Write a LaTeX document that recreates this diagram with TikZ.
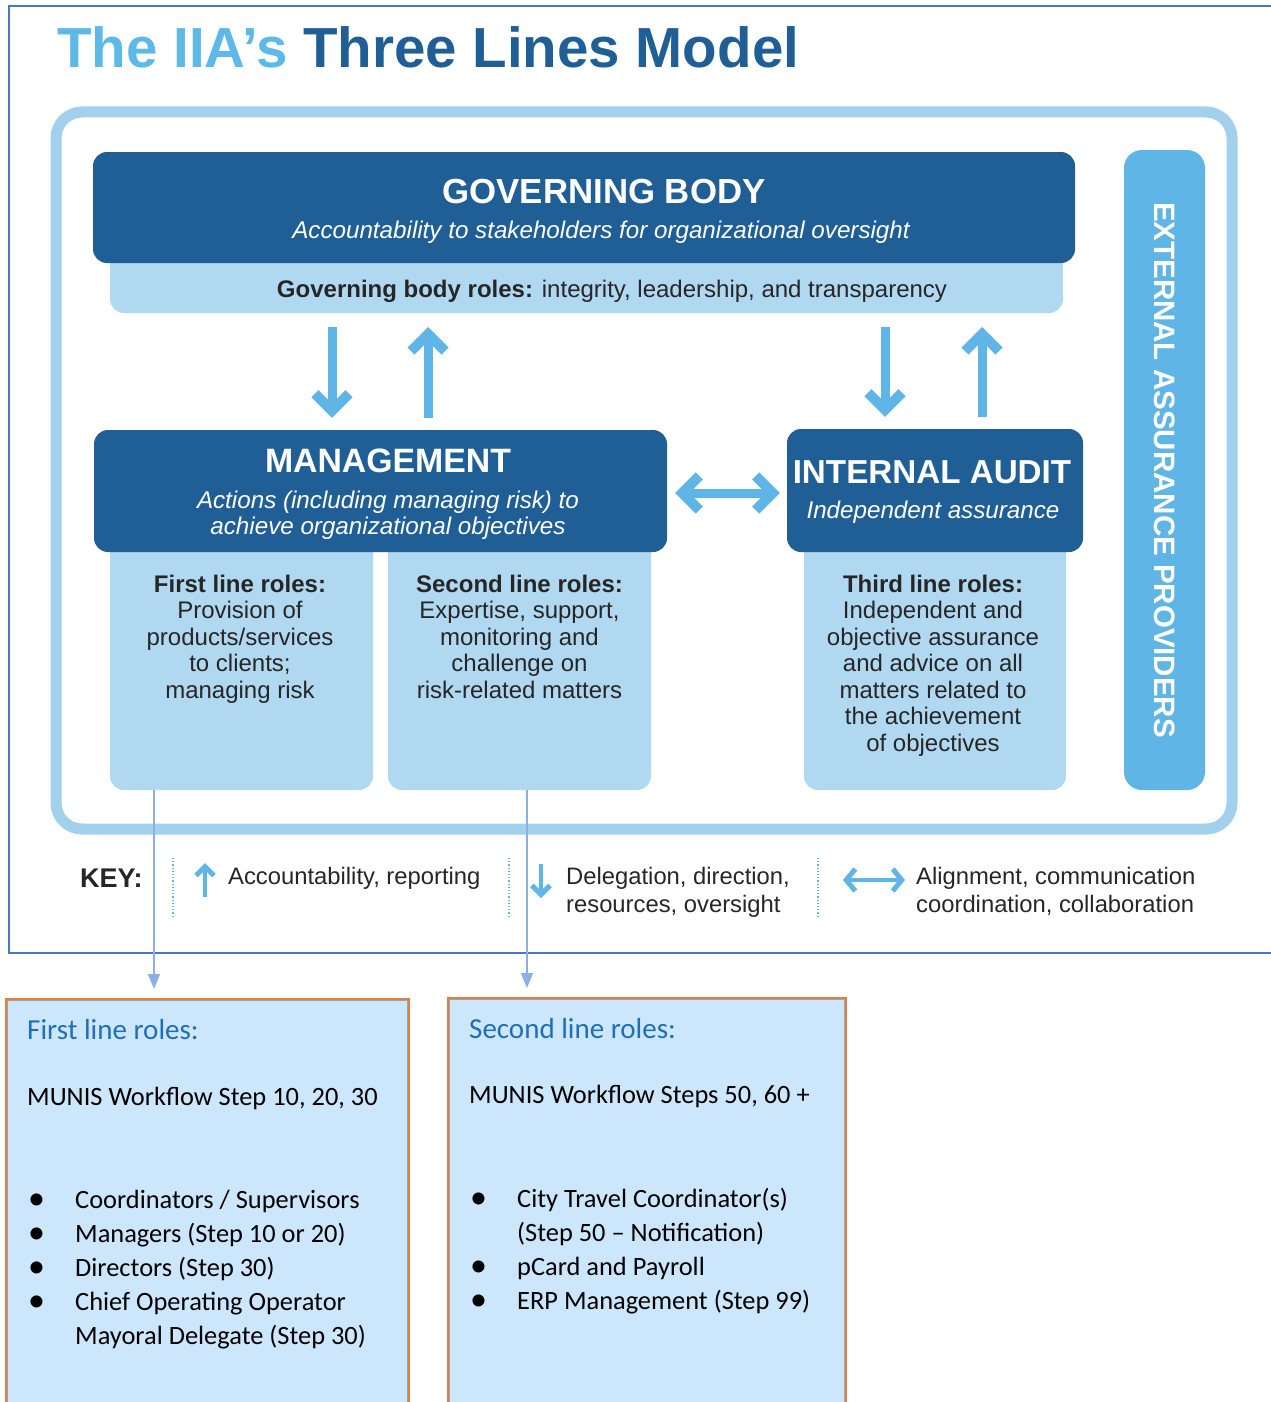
\documentclass[tikz,border=0pt]{standalone}
\usepackage{fontspec}
\setmainfont{Liberation Sans}
\newfontfamily\notefont{Carlito}
\usetikzlibrary{positioning,arrows.meta,calc}

\definecolor{iiadark}{HTML}{1F5F96}
\definecolor{iiasky}{HTML}{5CB9E8}
\definecolor{iiapale}{HTML}{B0D8F1}
\definecolor{iiaframe}{HTML}{A3D0EC}
\definecolor{iiamid}{HTML}{5FB5E5}
\definecolor{pageblue}{HTML}{4A78C6}
\definecolor{linkblue}{HTML}{8DB0E3}
\definecolor{noteorange}{HTML}{ED7D31}
\definecolor{noteedge}{HTML}{8FA7C6}
\definecolor{notefill}{HTML}{CCE6FC}
\definecolor{noteblue}{HTML}{1F6FB6}

\begin{document}
\begin{tikzpicture}[x=1pt,y=-1pt]
	\tikzset{
		darkbox/.style={fill=iiadark,rounded corners=14pt,inner sep=0pt},
		palebox/.style={fill=iiapale,rounded corners=14pt,inner sep=0pt},
		extbox/.style={fill=iiamid,rounded corners=18pt,inner sep=0pt,text=white,
			font=\fontsize{29.5}{32}\selectfont\bfseries},
		notebox/.style={draw=noteorange,line width=3pt,fill=notefill,inner sep=0pt},
		headtext/.style={text=white,inner sep=0pt,font=\fontsize{34.8}{36}\selectfont\bfseries},
		subtext/.style={text=white,inner sep=0pt,align=center,
			font=\fontsize{24.2}{26}\selectfont\itshape},
		roletext/.style={text=black!85,inner sep=0pt,align=center,
			font=\fontsize{24}{26.5}\selectfont},
		keytext/.style={text=black!85,inner sep=0pt,align=left,
			font=\fontsize{23.8}{28}\selectfont},
		notehead/.style={text=noteblue,inner sep=0pt,font=\notefont\fontsize{29}{34}\selectfont},
		notetext/.style={text=black,inner sep=0pt,font=\notefont\fontsize{26.4}{34}\selectfont},
		bigarrow/.style={draw=iiamid,line width=9pt,
			-{Straight Barb[length=17pt,width=34pt,line width=10pt]}},
		bothways/.style={draw=iiamid,line width=9pt,
			{Straight Barb[length=17pt,width=34pt,line width=10pt]}-{Straight Barb[length=17pt,width=34pt,line width=10pt]}},
		keyarrow/.style={draw=iiamid,line width=4.5pt,
			-{Straight Barb[length=9pt,width=18pt,line width=5pt]}},
		keyboth/.style={draw=iiamid,line width=4.5pt,
			{Straight Barb[length=9pt,width=22pt,line width=5pt]}-{Straight Barb[length=9pt,width=22pt,line width=5pt]}},
		keysep/.style={draw=iiamid,line width=1.2pt,dotted},
		link/.style={draw=linkblue,line width=1.5pt,-{Triangle[length=15pt,width=12pt]}}
	}
	\def\bigdot{{\fontsize{34}{34}\selectfont\raisebox{-1pt}{\textbullet}}}
	\useasboundingbox (0,0) rectangle (1270,1402);
	% page frame and the big rounded frame
	\draw[pageblue,line width=2pt] (9,6) rectangle (1290,953);
	\draw[iiaframe,line width=11pt,rounded corners=26pt] (56,112) rectangle (1232,829);
	\node[anchor=base west,inner sep=0pt,font=\fontsize{56.5}{60}\selectfont\bfseries] (title)
		at (57,68) {\textcolor{iiasky}{The IIA’s} \textcolor{iiadark}{Three Lines Model}};

	% governing body
	\node[palebox,minimum width=953pt,minimum height=90pt] (gbroles) at (586.5,268) {};
	\node[darkbox,minimum width=982pt,minimum height=111pt] (gov) at (584,207.5) {};
	\node[headtext,anchor=base] (govname) at (604,203) {GOVERNING BODY};
	\node[subtext,anchor=base] (govsub) at (601,238)
		{Accountability to stakeholders for organizational oversight};
	\node[roletext,anchor=base] (govroles) at (612,297)
		{\textbf{Governing body roles:} integrity, leadership, and transparency};

	% management with first and second line
	\node[palebox,minimum width=263pt,minimum height=280pt] (first) at (241.5,650) {};
	\node[palebox,minimum width=263pt,minimum height=280pt] (second) at (519.5,650) {};
	\node[darkbox,minimum width=573pt,minimum height=122pt] (mgmt) at (380.5,491) {};
	\node[headtext,anchor=base,font=\fontsize{33.8}{36}\selectfont\bfseries] (mgmtname) at (388,472) {MANAGEMENT};
	\node[subtext,anchor=north] (mgmtsub) at (388,491)
		{Actions (including managing risk) to\\achieve organizational objectives};
	\node[roletext,anchor=north] (firsttxt) at (240,574.5)
		{\textbf{First line roles:}\\Provision of\\products/services\\to clients;\\managing risk};
	\node[roletext,anchor=north] (secondtxt) at (519.5,574.5)
		{\textbf{Second line roles:}\\Expertise, support,\\monitoring and\\challenge on\\risk-related matters};

	% internal audit with third line
	\node[palebox,minimum width=262pt,minimum height=280pt] (third) at (935,650) {};
	\node[darkbox,minimum width=296pt,minimum height=123pt] (audit) at (935,490.5) {};
	\node[headtext,anchor=base,font=\fontsize{33.2}{36}\selectfont\bfseries] (auditname) at (932,483) {INTERNAL AUDIT};
	\node[subtext,anchor=base] (auditsub) at (933,518) {Independent assurance};
	\node[roletext,anchor=north] (thirdtxt) at (933,574.5)
		{\textbf{Third line roles:}\\Independent and\\objective assurance\\and advice on all\\matters related to\\the achievement\\of objectives};

	\node[extbox,rotate=-90,minimum width=640pt,minimum height=81pt] (ext) at (1164.5,470)
		{EXTERNAL ASSURANCE PROVIDERS};

	% delegation down, accountability up
	\coordinate (gmdown) at (332,327);
	\coordinate (gmup) at (428,327);
	\coordinate (gadown) at (885,327);
	\coordinate (gaup) at (982,327);
	\draw[bigarrow,shorten >=12pt] (gmdown) -- (gmdown |- mgmt.north);
	\draw[bigarrow,shorten <=12pt] (gmup |- mgmt.north) -- (gmup);
	\draw[bigarrow,shorten >=12pt] (gadown) -- (gadown |- audit.north);
	\draw[bigarrow,shorten <=12pt] (gaup |- audit.north) -- (gaup);
	\draw[bothways,shorten <=8pt,shorten >=7pt] ([yshift=-2pt]mgmt.east) -- ([yshift=-2pt]mgmt.east -| audit.west);

	% key
	\node[anchor=base west,inner sep=0pt,font=\fontsize{27}{30}\selectfont\bfseries,text=black!85]
		(key) at (80,887) {KEY:};
	\foreach \x in {173,509,818}
		\draw[keysep] (\x,858) -- (\x,916);
	\draw[keyarrow] (205,897) -- (205,863);
	\node[keytext,anchor=base west] (keyup) at (228,884) {Accountability, reporting};
	\draw[keyarrow] (541,864) -- (541,898);
	\node[keytext,anchor=north west] (keydown) at (566,867) {Delegation, direction,\\resources, oversight};
	\draw[keyboth] (843,880) -- (905,880);
	\node[keytext,anchor=north west] (keyboth) at (916,867) {Alignment, communication\\coordination, collaboration};

	% notes below the model
	\node[notebox,anchor=north west,minimum width=402pt,minimum height=430pt] (flnote) at (5,998) {};
	\node[notebox,anchor=north west,minimum width=397pt,minimum height=430pt] (slnote) at (447,997) {};
	\foreach \n in {flnote,slnote}
		\draw[noteedge,line width=1.2pt] ([shift={(2.2pt,-2.2pt)}]\n.north west)
			rectangle ([shift={(-2.2pt,2.2pt)}]\n.south east);
	\node[notehead,anchor=base west] (flhead) at (27,1039) {First line roles:};
	\node[notetext,anchor=base west] (flmunis) at (27,1105) {MUNIS Workflow Step 10, 20, 30};
	\node[notetext,anchor=north west] (fllist) at (28,1184.2) {%
		\begin{tabular}{@{}p{47pt}@{}l@{}}
		\bigdot & Coordinators / Supervisors\\
		\bigdot & Managers (Step 10 or 20)\\
		\bigdot & Directors (Step 30)\\
		\bigdot & Chief Operating Operator\\
		 & Mayoral Delegate (Step 30)
		\end{tabular}};
	\node[notehead,anchor=base west] (slhead) at (469,1038) {Second line roles:};
	\node[notetext,anchor=base west] (slmunis) at (469,1103) {MUNIS Workflow Steps 50, 60 +};
	\node[notetext,anchor=north west] (sllist) at (470,1183.2) {%
		\begin{tabular}{@{}p{47pt}@{}l@{}}
		\bigdot & City Travel Coordinator(s)\\
		 & (Step 50 – Notification)\\
		\bigdot & pCard and Payroll\\
		\bigdot & ERP Management (Step 99)
		\end{tabular}};

	% links from the roles down to the notes
	\coordinate (fltap) at (154,790);
	\coordinate (sltap) at (527,790);
	\draw[link,shorten >=9pt] (fltap) -- (fltap |- flnote.north);
	\draw[link,shorten >=9pt] (sltap) -- (sltap |- slnote.north);
\end{tikzpicture}
\end{document}
